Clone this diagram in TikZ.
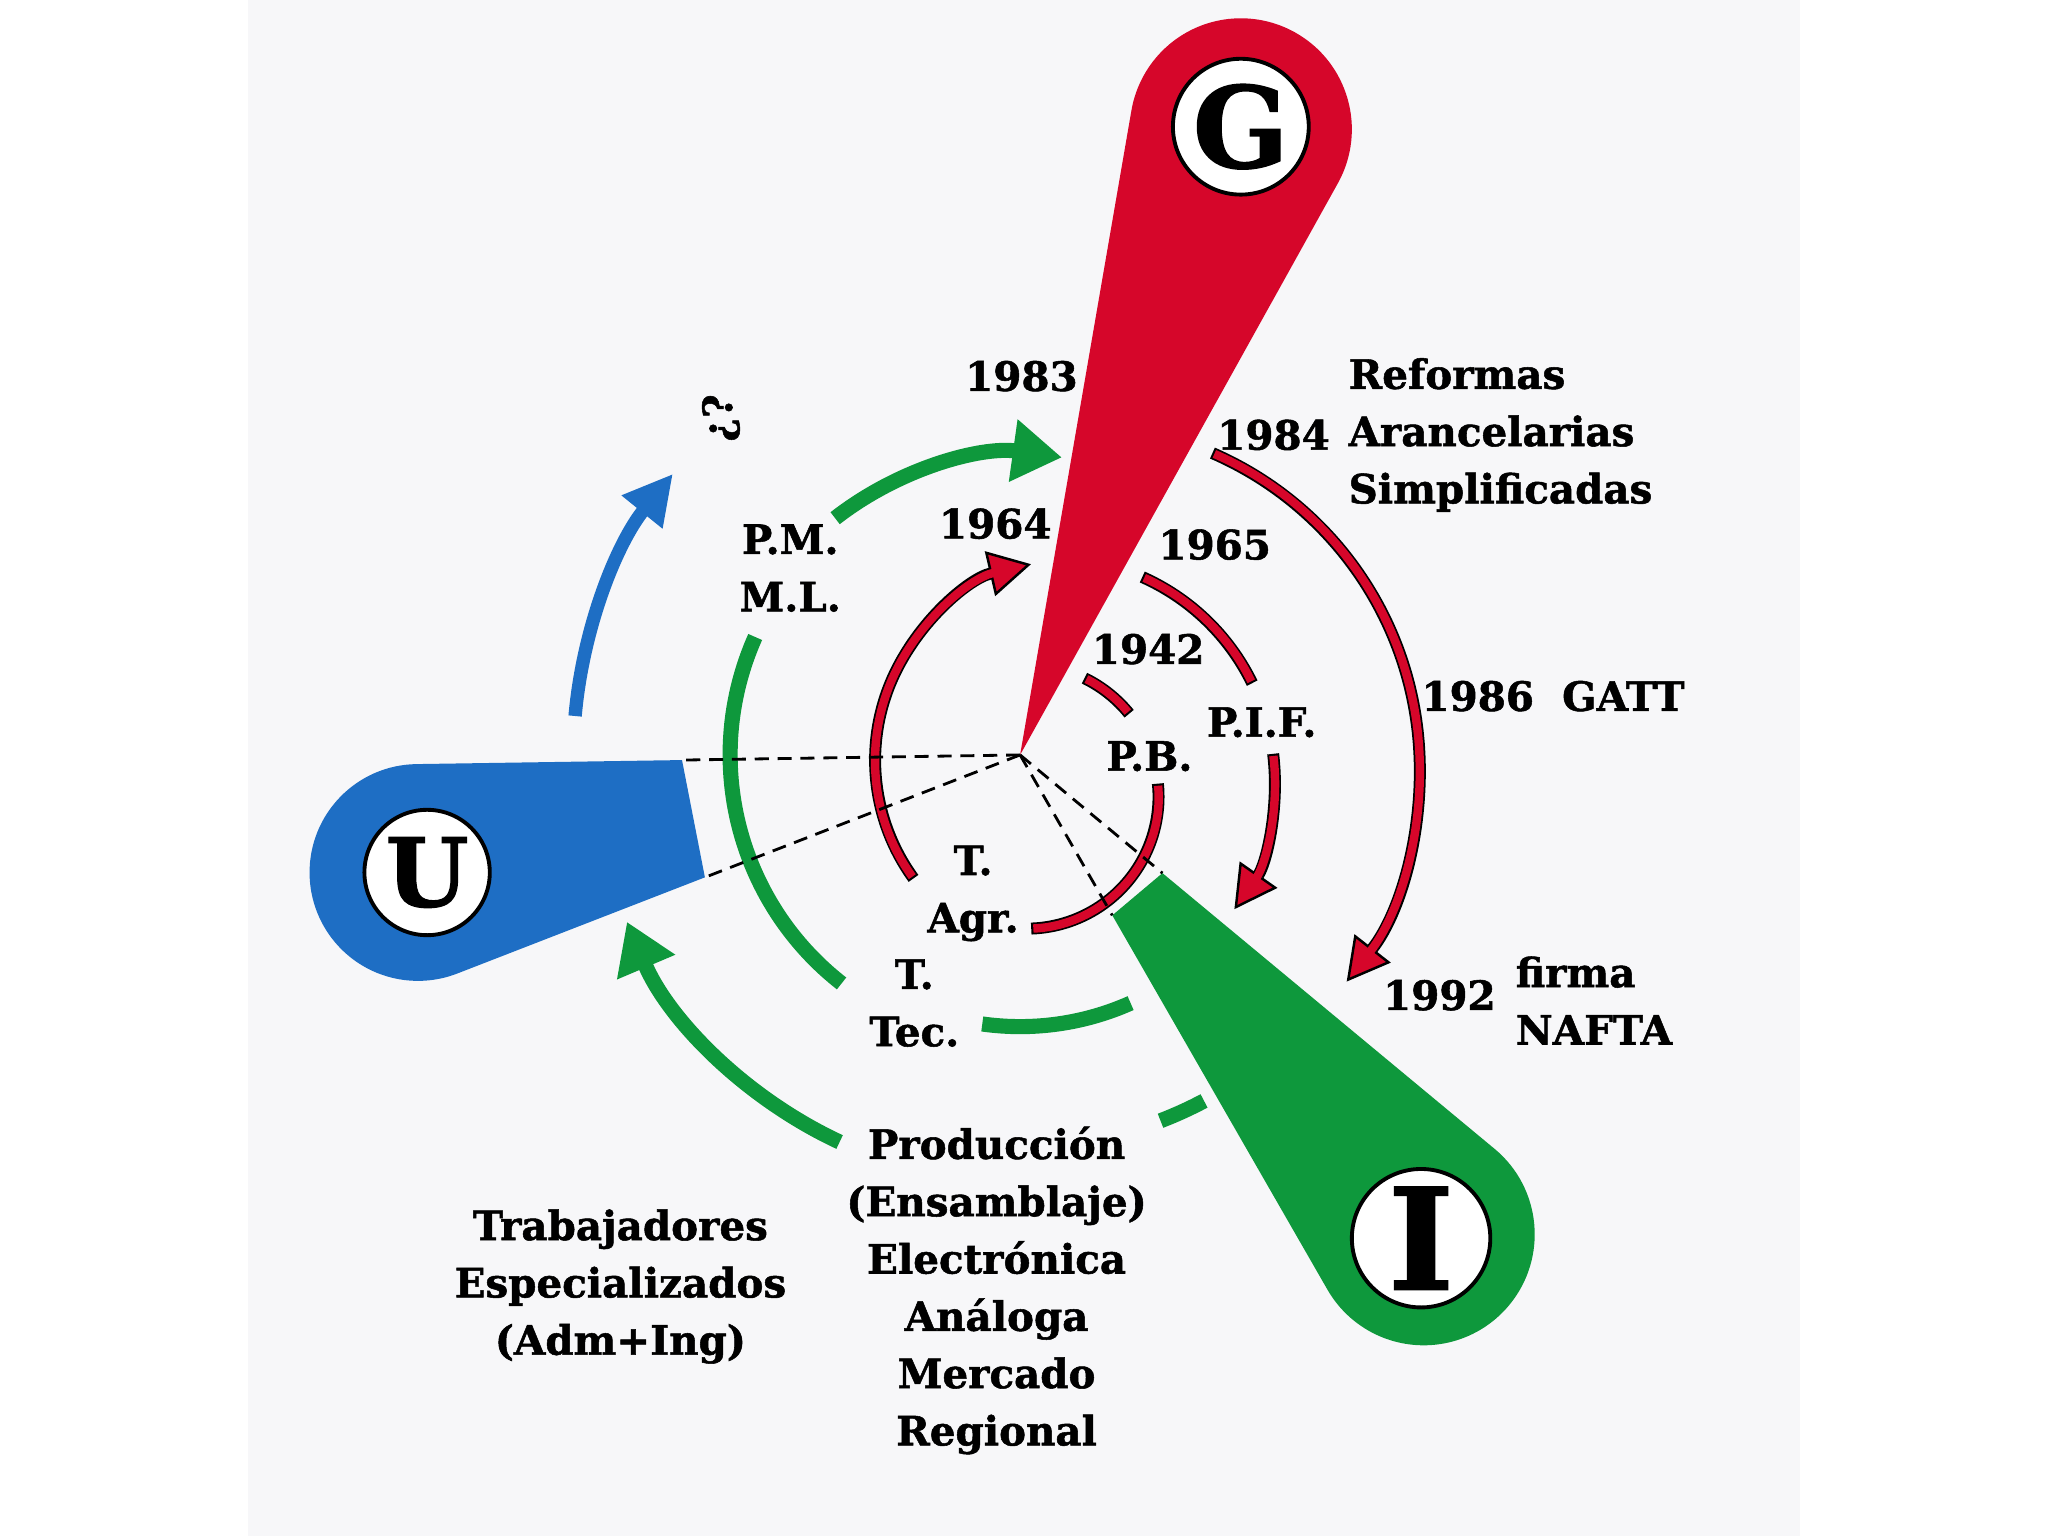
\documentclass[tikz,border=0pt]{standalone}
\usepackage{fontspec}
\setmainfont{DejaVu Serif}
\newfontfamily\heavyfont{DejaVu Serif Bold}[FakeBold=1.3]
\usetikzlibrary{calc,arrows.meta}
\definecolor{gred}{RGB}{214,6,42}
\definecolor{ngreen}{RGB}{14,152,60}
\definecolor{ublue}{RGB}{30,110,196}
\definecolor{panel}{RGB}{247,247,249}

\begin{document}
\begin{tikzpicture}[x=0.1306mm, y=0.1306mm,
    lbl/.style={font=\fontsize{11.5}{16.3}\selectfont\heavyfont, inner sep=0pt, align=center},
    big/.style={font=\fontsize{#1}{#1}\selectfont\heavyfont, inner sep=0pt},
    gline/.style={draw=ngreen, line width=4.3pt},
    bline/.style={draw=ublue, line width=3.8pt},
    redout/.style={draw=black, line width=3.4pt},
    redin/.style={draw=gred, line width=2.4pt, shorten <=0.6pt, shorten >=0.6pt},
    rayline/.style={draw=black, line width=0.8pt, dash pattern=on 4pt off 2.5pt}]
    \useasboundingbox (0,0) rectangle (1568,1176);
    \fill[white] (0,0) rectangle (1568,1176);
    \fill[panel] (190,0) rectangle (1378,1176);

    \coordinate (C) at (781,598);
    \coordinate (Gc) at (950,1077);
    \coordinate (Uc) at (320,508);
    \coordinate (Ic) at (1090,231);
    \coordinate (Gin) at (950,1079);
    \coordinate (Uin) at (327,508);
    \coordinate (Iin) at (1088,228);

    \fill[gred] (C) -- ($(Gc)+(-29.1:85)$) arc[start angle=-29.1, end angle=170.2, radius=85] -- cycle;

    \coordinate (Ut1) at ($(Uc)+(90.85:83)$);
    \coordinate (Ut2) at ($(Uc)+(291.25:83)$);
    \coordinate (Uk1) at ($(Ut1)!0.44!(C)$);
    \coordinate (Uk2) at ($(Ut2)!0.44!(C)$);
    \fill[ublue] (Uk1) -- (Ut1) arc[start angle=90.85, end angle=291.25, radius=83] -- (Uk2) -- cycle;

    \coordinate (It1) at ($(Ic)+(50.3:85)$);
    \coordinate (It2) at ($(Ic)+(-150.1:85)$);
    \coordinate (Ik1) at ($(It1)!0.70!(C)$);
    \coordinate (Ik2) at ($(It2)!0.70!(C)$);
    \fill[ngreen] (Ik1) -- (It1) arc[start angle=50.3, end angle=-150.1, radius=85] -- (Ik2) -- cycle;

    \foreach \p/\r in {Gin/52,Uin/48,Iin/53} {
        \filldraw[fill=white, draw=black, line width=1.1pt] (\p) circle[radius=\r];
    };
    \node[big=32] (G) at (Gin) {G};
    \node[big=27] (U) at (Uin) {U};
    \node[big=40] (I) at (Iin) {I};

    \foreach \a/\b/\r in {156/232/222, 262/294/208, 291/298/300} {
        \draw[gline] ($(C)+(\a:\r)$) arc[start angle=\a, end angle=\b, radius=\r];
    };
    \foreach \a/\b/\r in {128/82/230, 245/203/327} {
        \draw[gline, -{Triangle[length=14pt, width=17pt]}] ($(C)+(\a:\r)$) arc[start angle=\a, end angle=\b, radius=\r];
    };
    \draw[bline, -{Triangle[length=14pt, width=14pt]}] ($(C)+(175:342)$) arc[start angle=175, end angle=141, radius=342];

    \coordinate (R1) at (824,594);
    \coordinate (R2) at (786,566);
    \coordinate (R3) at (805,578);
    \coordinate (R4) at (823,587);
    \foreach \ctr/\a/\b/\r in {R2/64/39/101, R2/5.7/-88/101, R3/66/26/171} {
        \draw[redout] ($(\ctr)+(\a:\r)$) arc[start angle=\a, end angle=\b, radius=\r];
        \draw[redin] ($(\ctr)+(\a:\r)$) arc[start angle=\a, end angle=\b, radius=\r];
    };
    \foreach \ctr/\a/\b/\r in {R1/216/103/154, R3/7/-35/171, R4/66.5/-38/264} {
        \draw[redout, -{Triangle[length=12pt, width=13pt, line width=0.7pt, fill=gred]}] ($(\ctr)+(\a:\r)$) arc[start angle=\a, end angle=\b, radius=\r];
        \draw[redin, shorten >=11pt] ($(\ctr)+(\a:\r)$) arc[start angle=\a, end angle=\b, radius=\r];
    };

    \foreach \k in {Uk1,Uk2,Ik1,Ik2} {
        \draw[rayline] (C) -- (\k);
    };

    \node[lbl] (y1983) at (782,888) {1983};
    \node[lbl] (y1984) at (975,843) {1984};
    \node[lbl, anchor=west, align=left] (reform) at (1032,843) {Reformas\\Arancelarias\\Simplificadas};
    \node[lbl] (y1964) at (762,775) {1964};
    \node[lbl] (y1965) at (930,759) {1965};
    \node[lbl] (pmml) at (605,741) {P.M.\\M.L.};
    \node[lbl, rotate=-90] (quest) at (552,856) {¿?};
    \node[lbl] (y1942) at (879,679) {1942};
    \node[lbl] (pif) at (966,623) {P.I.F.};
    \node[lbl] (pb) at (880,597) {P.B.};
    \node[lbl] (gatt) at (1189,643) {1986\ \ GATT};
    \node[lbl] (tagr) at (745,492) {T.\\Agr.};
    \node[lbl] (ttec) at (700,408) {T.\\Tec.};
    \node[lbl] (y1992) at (1102,414) {1992};
    \node[lbl, anchor=west, align=left] (nafta) at (1160,410) {firma\\NAFTA};
    \node[lbl] (prod) at (763,188) {Producción\\(Ensamblaje)\\Electrónica\\Análoga\\Mercado\\Regional};
    \node[lbl] (trab) at (475,191) {Trabajadores\\Especializados\\(Adm+Ing)};
\end{tikzpicture}
\end{document}
